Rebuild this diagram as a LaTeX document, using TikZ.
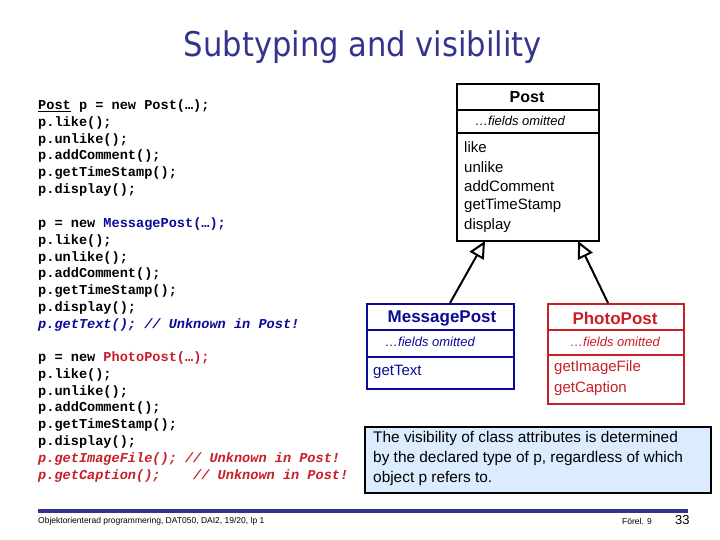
\documentclass[tikz,border=0pt]{standalone}
\usepackage{fontspec}
\setmainfont{Liberation Sans}
\newfontfamily\codefont{Liberation Mono}
\newfontfamily\titlefont{DejaVu Sans Condensed}
\usetikzlibrary{arrows.meta}
\definecolor{titleblue}{RGB}{52,52,140}
\definecolor{msgblue}{RGB}{10,10,150}
\definecolor{photored}{RGB}{200,30,40}
\definecolor{notebg}{RGB}{220,236,255}
\begin{document}
\begin{tikzpicture}[x=1pt,y=-1pt,
  code/.style={anchor=west,inner sep=0pt,font=\codefont\bfseries\fontsize{13.6}{15}\selectfont},
  uml/.style={draw,line width=2pt,anchor=north west,inner sep=0pt},
  cname/.style={inner sep=0pt,font=\bfseries\fontsize{15.5}{17}\selectfont},
  cfield/.style={inner sep=0pt,font=\itshape\fontsize{13}{15}\selectfont},
  cmeth/.style={anchor=west,inner sep=0pt,font=\fontsize{15}{17}\selectfont},
  inherit/.style={line width=2pt,-{Triangle[open,length=17pt,width=16pt]}}]
\useasboundingbox (0,0) rectangle (720,540);
% title
\node[inner sep=0pt,text=titleblue,font=\titlefont\fontsize{34}{36}\selectfont] (title) at (363,47) {Subtyping and visibility};
% code
\foreach \t [count=\i] in {\underline{Post} p = new Post(…);,p.like();,p.unlike();,p.addComment();,p.getTimeStamp();,p.display();}
  \node[code] (c1\i) at (38,{106+16.8*(\i-1)}) {\t};
\node[code] (c21) at (38,224) {p = new \textcolor{msgblue}{MessagePost(…);}};
\foreach \t [count=\i from 2] in {p.like();,p.unlike();,p.addComment();,p.getTimeStamp();,p.display();}
  \node[code] (c2\i) at (38,{224+16.8*(\i-1)}) {\t};
\node[code,text=msgblue,font=\codefont\bfseries\itshape\fontsize{13.6}{15}\selectfont] (c27) at (38,325) {p.getText(); // Unknown in Post!};
\node[code] (c31) at (38,358) {p = new \textcolor{photored}{PhotoPost(…);}};
\foreach \t [count=\i from 2] in {p.like();,p.unlike();,p.addComment();,p.getTimeStamp();,p.display();}
  \node[code] (c3\i) at (38,{358+16.8*(\i-1)}) {\t};
\node[code,text=photored,font=\codefont\bfseries\itshape\fontsize{13.6}{15}\selectfont] (c37) at (38,459) {p.getImageFile(); // Unknown in Post!};
\node[code,text=photored,font=\codefont\bfseries\itshape\fontsize{13.6}{15}\selectfont] (c38) at (38,476) {p.getCaption();\ \ \ \ // Unknown in Post!};
% Post class
\node[uml,minimum width=142pt,minimum height=157pt] (post) at (456,83) {};
\draw[line width=1.5pt] (456,110) -- (598,110) (456,133) -- (598,133);
\node[cname,font=\bfseries\fontsize{16}{18}\selectfont] (postn) at (527,97) {Post};
\node[cfield] (postf) at (520,121) {…fields omitted};
\foreach \t [count=\i] in {like,unlike,addComment,getTimeStamp,display}
  \node[cmeth] (pm\i) at (464,{147+19.7*(\i-1)}) {\t};
% MessagePost class
\begin{scope}[msgblue]
\node[uml,minimum width=147pt,minimum height=85pt] (msg) at (366,303) {};
\draw[line width=1.5pt] (366,330) -- (513,330) (366,357) -- (513,357);
\node[cname,font=\bfseries\fontsize{17}{19}\selectfont] (msgn) at (442,318) {MessagePost};
\node[cfield] (msgf) at (430,342) {…fields omitted};
\node[cmeth] (mm1) at (373,372) {getText};
\end{scope}
% PhotoPost class
\begin{scope}[photored]
\node[uml,minimum width=136pt,minimum height=100pt] (photo) at (547,303) {};
\draw[line width=1.5pt] (547,330) -- (683,330) (547,355) -- (683,355);
\node[cname,font=\bfseries\fontsize{17}{19}\selectfont] (photon) at (615,318) {PhotoPost};
\node[cfield] (photof) at (615,342) {…fields omitted};
\node[cmeth] (phm1) at (554,368) {getImageFile};
\node[cmeth] (phm2) at (554,389) {getCaption};
\end{scope}
% inheritance
\coordinate (m0) at (450,303); \coordinate (m1) at (485,241);
\coordinate (f0) at (608,303); \coordinate (f1) at (578,241);
\draw[inherit] (m0) -- (m1);
\draw[inherit] (f0) -- (f1);
% note
\node[draw,line width=2pt,fill=notebg,anchor=north west,minimum width=346pt,minimum height=66pt,inner sep=0pt] (notebox) at (364,426) {};
\node[anchor=north west,align=left,inner sep=0pt,font=\fontsize{15.4}{20}\selectfont] (note) at (373,431)
  {The visibility of class attributes is determined\\by the declared type of p, regardless of which\\object p refers to.};
% footer
\fill[titleblue] (38,508.5) rectangle (688,512.5);
\node[anchor=west,inner sep=0pt,font=\fontsize{8.5}{10}\selectfont] (foot) at (38,521) {Objektorienterad programmering, DAT050, DAI2, 19/20, lp 1};
\node[anchor=west,inner sep=0pt,font=\fontsize{8.5}{10}\selectfont] (forel) at (622,521) {Förel. 9};
\node[anchor=west,inner sep=0pt,font=\fontsize{13}{15}\selectfont] (page) at (675,520) {33};
\end{tikzpicture}
\end{document}
